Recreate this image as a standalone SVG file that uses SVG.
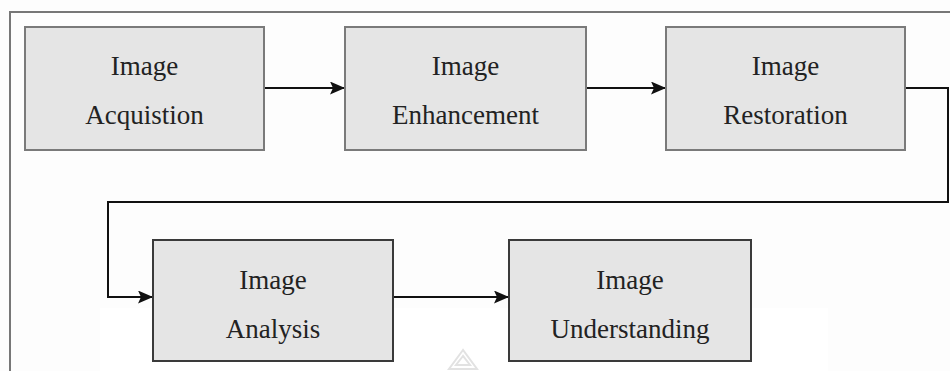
<svg xmlns="http://www.w3.org/2000/svg" width="950" height="371" viewBox="0 0 950 371">
<style>
.box{fill:#e5e5e5;stroke:#7a7a7a;stroke-width:2}
.box2{fill:#e5e5e5;stroke:#3a3a3a;stroke-width:2}
.lbl{font-size:27px;fill:#222;text-anchor:middle}
.conn{fill:none;stroke:#111;stroke-width:2}
</style>
<defs>
<marker id="arr" viewBox="0 0 15 13" refX="15" refY="6.5" markerWidth="15" markerHeight="13" markerUnits="userSpaceOnUse" orient="auto">
<path d="M0,0 L15,6.5 L0,13 L3,6.5 Z" fill="#111"/>
</marker>
</defs>
<rect x="0" y="0" width="950" height="371" fill="#fdfdfd"/>
<rect x="100" y="308" width="728" height="63" fill="#ffffff"/>
<path d="M950,12 H10 V371" fill="none" stroke="#777" stroke-width="2"/>
<path d="M463,350 L449,369 H477 Z M463,356 L456,365 H470 Z" fill="none" stroke="#e2e2e2" stroke-width="2"/>
<g id="connectors">
<path class="conn" d="M264,88 H345" marker-end="url(#arr)"/>
<path class="conn" d="M586,88 H666" marker-end="url(#arr)"/>
<path class="conn" d="M905,88 H948 V202 H108 V297 H153" marker-end="url(#arr)"/>
<path class="conn" d="M393,297 H509" marker-end="url(#arr)"/>
</g>
<g font-family="'Liberation Serif', 'Times New Roman', 'DejaVu Serif', serif">
<g id="acquisition">
<rect class="box" x="25" y="27" width="239" height="123"/>
<text class="lbl" x="144.5" y="75">Image</text>
<text class="lbl" x="144.5" y="124">Acquistion</text>
</g>
<g id="enhancement">
<rect class="box" x="345" y="27" width="241" height="123"/>
<text class="lbl" x="465.5" y="75">Image</text>
<text class="lbl" x="465.5" y="124">Enhancement</text>
</g>
<g id="restoration">
<rect class="box" x="666" y="27" width="239" height="123"/>
<text class="lbl" x="785.5" y="75">Image</text>
<text class="lbl" x="785.5" y="124">Restoration</text>
</g>
<g id="analysis">
<rect class="box2" x="153" y="240" width="240" height="121"/>
<text class="lbl" x="273" y="289">Image</text>
<text class="lbl" x="273" y="338">Analysis</text>
</g>
<g id="understanding">
<rect class="box2" x="509" y="240" width="242" height="121"/>
<text class="lbl" x="630" y="289">Image</text>
<text class="lbl" x="630" y="338">Understanding</text>
</g>
</g>
</svg>
